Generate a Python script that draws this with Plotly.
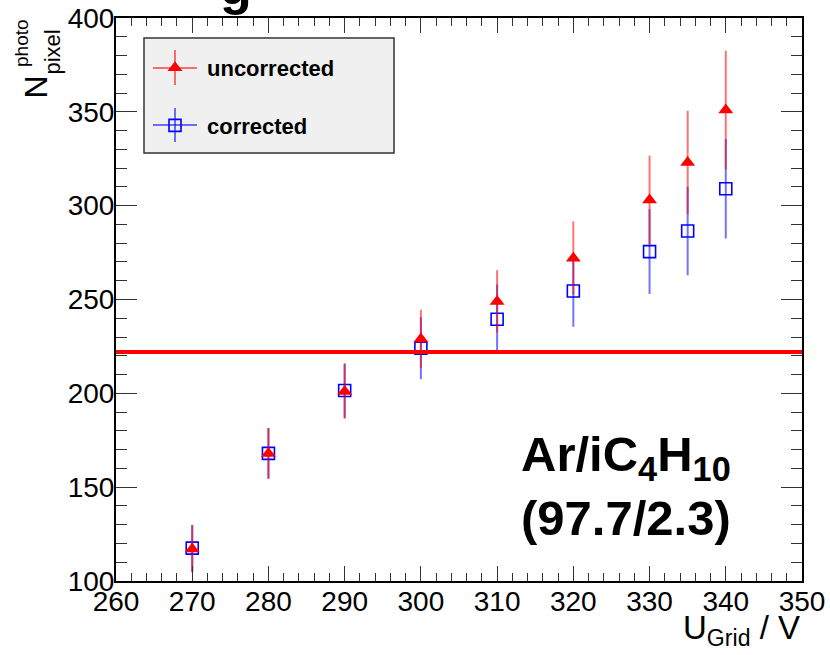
import plotly.graph_objects as go

# ---------------- data ----------------
u_grid = [270, 280, 290, 300, 310, 320, 330, 335, 340]
uncorrected = [117, 168, 201, 229, 249, 272, 303, 323, 351]
uncorrected_err = [12, 13, 14, 15, 16, 19, 23, 27, 31]
corrected = [117.5, 168, 201.5, 224, 239.5, 254.5, 275.5, 286.5, 309]
corrected_err = [12, 13, 14, 16, 18, 18.5, 22, 23, 26]
reference_level = 222
x_range = [260, 350]
y_range = [100, 400]
x_ticks = [260, 270, 280, 290, 300, 310, 320, 330, 340, 350]
y_ticks = [100, 150, 200, 250, 300, 350, 400]

# ---------------- layout helpers ----------------
W, H = 830, 655
L, R, T, B = 116, 802, 18, 581


def px_x(p):
    return (p - L) / (R - L)


def px_y(p):
    return (B - p) / (B - T)


RED = "rgb(255,0,0)"
RED_A = "rgba(255,0,0,0.55)"
BLUE = "rgb(0,0,255)"
BLUE_A = "rgba(0,0,255,0.55)"
FONT = "Liberation Sans, Arial, Helvetica, sans-serif"

fig = go.Figure()

fig.add_trace(go.Scatter(
    x=u_grid, y=corrected, mode="markers", name="<b>corrected</b>",
    legendgroup="b", legendrank=2,
    marker=dict(symbol="square-open", size=12, color=BLUE, line=dict(width=1.6, color=BLUE)),
    error_y=dict(type="data", array=corrected_err, visible=True, color=BLUE_A, thickness=2, width=1),
))
fig.add_trace(go.Scatter(
    x=u_grid, y=uncorrected, mode="markers", name="<b>uncorrected</b>",
    legendgroup="a", legendrank=1,
    marker=dict(symbol="triangle-up", size=13, color=RED, line=dict(width=0)),
    error_y=dict(type="data", array=uncorrected_err, visible=True, color=RED_A, thickness=2, width=1),
))

shapes = [
    # reference level line
    dict(type="line", xref="paper", yref="y", x0=0, x1=1, y0=reference_level, y1=reference_level,
         line=dict(color=RED, width=4), layer="above"),
    # legend box
    dict(type="rect", xref="paper", yref="paper", x0=px_x(144), x1=px_x(394), y0=px_y(153), y1=px_y(38),
         fillcolor="#f0f0f0", line=dict(color="#333333", width=1.5), layer="below"),
    # legend error-bar crosses
    dict(type="line", xref="paper", yref="paper", x0=px_x(153), x1=px_x(197), y0=px_y(68), y1=px_y(68),
         line=dict(color=RED_A, width=2)),
    dict(type="line", xref="paper", yref="paper", x0=px_x(175), x1=px_x(175), y0=px_y(50), y1=px_y(85),
         line=dict(color=RED_A, width=2)),
    dict(type="line", xref="paper", yref="paper", x0=px_x(153), x1=px_x(197), y0=px_y(125), y1=px_y(125),
         line=dict(color=BLUE_A, width=2)),
    dict(type="line", xref="paper", yref="paper", x0=px_x(175), x1=px_x(175), y0=px_y(108), y1=px_y(142),
         line=dict(color=BLUE_A, width=2)),
]

annotations = [
    # cut-off title fragment
    dict(text="<b>g</b>", xref="paper", yref="paper", x=px_x(236), y=px_y(17), xanchor="center",
         yanchor="bottom", showarrow=False, font=dict(family=FONT, size=52, color="black")),
    # y-axis title pieces (rotated; anchors refer to the rotated box)
    dict(text="N", xref="paper", yref="paper", x=px_x(35), y=px_y(101), xanchor="center", yanchor="bottom",
         textangle=-90, showarrow=False, font=dict(family=FONT, size=32, color="black")),
    dict(text="photo", xref="paper", yref="paper", x=px_x(21), y=px_y(17), xanchor="center", yanchor="top",
         textangle=-90, showarrow=False, font=dict(family=FONT, size=19, color="black")),
    dict(text="pixel", xref="paper", yref="paper", x=px_x(52), y=px_y(77), xanchor="center", yanchor="bottom",
         textangle=-90, showarrow=False, font=dict(family=FONT, size=22, color="black")),
    # x-axis title
    dict(text="U<sub>Grid</sub> / V", xref="paper", yref="paper", x=px_x(802), y=px_y(607),
         xanchor="right", yanchor="top", showarrow=False, font=dict(family=FONT, size=33, color="black")),
    # gas label
    dict(text="<b>Ar/iC<sub>4</sub>H<sub>10</sub><br>(97.7/2.3)</b>", xref="paper", yref="paper",
         x=px_x(626), y=px_y(486), xanchor="center", yanchor="middle", align="center",
         showarrow=False, font=dict(family=FONT, size=49, color="black")),
]

axis_common = dict(
    showline=True, linecolor="black", linewidth=2, mirror="allticks",
    ticks="inside", tickcolor="#333333", tickwidth=1.2,
    showgrid=False, zeroline=False, automargin=False,
    tickfont=dict(family=FONT, size=28, color="black"),
)

fig.update_layout(
    width=W, height=H,
    margin=dict(l=L, r=W - R, t=T, b=H - B),
    paper_bgcolor="white", plot_bgcolor="white",
    showlegend=True,
    legend=dict(x=px_x(143), y=px_y(47), xanchor="left", yanchor="top",
                bgcolor="rgba(0,0,0,0)", borderwidth=0, itemwidth=54, tracegroupgap=26,
                font=dict(family=FONT, size=22, color="black"), traceorder="grouped"),
    xaxis=dict(range=x_range, tickvals=x_ticks, ticklen=15, ticklabelstandoff=-6,
               minor=dict(dtick=2, ticklen=8, ticks="inside", tickcolor="#333333", tickwidth=1.2),
               **axis_common),
    yaxis=dict(range=y_range, tickvals=y_ticks, ticklen=21, ticklabelstandoff=-6,
               minor=dict(dtick=10, ticklen=11, ticks="inside", tickcolor="#333333", tickwidth=1.2),
               **axis_common),
    shapes=shapes,
    annotations=annotations,
)

fig.write_html("out.html")
